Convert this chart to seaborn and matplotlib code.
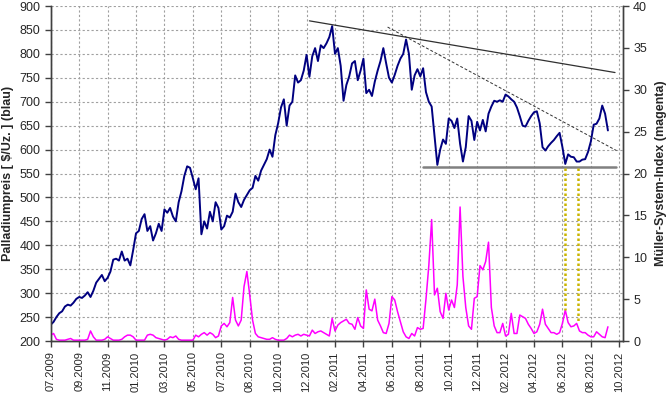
import numpy as np
import pandas as pd
import seaborn as sns
import matplotlib
matplotlib.use("Agg")
from matplotlib import pyplot as plt

# x axis labels, one every tick interval
tick_labels = ["07.2009", "09.2009", "11.2009", "01.2010", "03.2010", "05.2010",
               "07.2010", "08.2010", "10.2010", "12.2010", "02.2011", "04.2011",
               "06.2011", "08.2011", "10.2011", "12.2011", "02.2012", "04.2012",
               "06.2012", "08.2012", "10.2012"]

# samples are spaced 0.1 tick interval apart
step = 0.1

# palladium price in $/oz (blue, left axis)
price = [
    234, 240, 250, 258, 262, 272, 276, 274, 280, 288,
    292, 290, 295, 302, 292, 305, 322, 330, 338, 325,
    332, 345, 370, 372, 368, 387, 368, 372, 358, 390,
    425, 430, 455, 465, 430, 440, 410, 425, 445, 430,
    475, 468, 478, 460, 450, 490, 513, 545, 565, 562,
    540, 517, 540, 423, 450, 435, 470, 450, 490, 478,
    433, 440, 462, 458, 470, 508, 490, 480, 495, 505,
    515, 520, 545, 535, 556, 568, 580, 600, 585, 630,
    655, 688, 705, 650, 692, 700, 755, 740, 745, 765,
    798, 752, 795, 812, 785, 818, 812, 822, 835, 858,
    800, 812, 775, 702, 735, 753, 780, 785, 745, 765,
    790, 718, 725, 712, 742, 765, 785, 812, 780, 750,
    740, 756, 775, 790, 800, 830, 800, 725, 755, 768,
    753, 770, 720, 700, 690, 630, 568, 600, 621, 612,
    665, 660, 645, 665, 612, 575, 605, 670, 660, 620,
    658, 640, 662, 638, 675, 690, 702, 700, 703, 700,
    715, 711, 705, 700, 688, 670, 650, 648, 660, 670,
    678, 680, 655, 605, 598, 607, 614, 620, 628, 635,
    605, 570, 590, 585, 584, 575, 575, 579, 580, 595,
    617, 652, 654, 665, 692, 675, 640,
]

# Mueller-System-Index (magenta, right axis)
msi = [
    0.7, 0.9, 0.2, 0.1, 0.1, 0.1, 0.2, 0.3, 0.1, 0.1,
    0.1, 0.1, 0.1, 0.2, 1.2, 0.5, 0.1, 0.1, 0.1, 0.2,
    0.5, 0.3, 0.1, 0.1, 0.1, 0.2, 0.5, 0.7, 0.7, 0.5,
    0.1, 0.1, 0.1, 0.1, 0.7, 0.8, 0.7, 0.4, 0.3, 0.2,
    0.1, 0.2, 0.5, 0.4, 0.6, 0.2, 0.1, 0.1, 0.1, 0.1,
    0.1, 0.7, 0.5, 0.8, 1.0, 0.7, 1.0, 0.8, 0.4, 0.6,
    1.8, 2.1, 1.7, 2.2, 5.2, 2.5, 1.8, 2.5, 6.5, 8.3,
    5.5, 2.5, 0.9, 0.5, 0.4, 0.3, 0.2, 0.2, 0.4, 0.2,
    0.1, 0.1, 0.1, 0.3, 0.7, 0.5, 0.7, 0.8, 0.6, 0.8,
    0.7, 0.6, 1.3, 0.9, 1.1, 1.2, 1.0, 0.8, 0.6, 2.7,
    1.2, 1.9, 2.2, 2.4, 2.6, 2.1, 2.0, 1.4, 2.8, 1.8,
    1.5, 6.1, 3.8, 3.6, 5.0, 2.5, 1.8, 1.0, 0.9, 2.1,
    5.3, 4.9, 3.5, 2.3, 1.1, 0.5, 0.3, 0.9, 0.6, 1.6,
    1.4, 1.5, 5.0, 9.0, 14.5, 5.5, 6.3, 3.5, 2.7, 5.7,
    3.7, 4.9, 4.0, 6.7, 16.0, 7.7, 4.0, 1.8, 1.4, 5.1,
    5.3, 9.0, 8.5, 9.5, 11.8, 4.0, 1.8, 1.0, 1.0, 2.1,
    0.6, 0.8, 3.3, 0.9, 0.9, 3.1, 2.9, 2.7, 2.0, 1.5,
    0.9, 1.1, 2.0, 3.8, 2.0, 1.5, 1.0, 1.0, 0.8, 1.0,
    2.1, 3.7, 2.2, 1.7, 1.8, 2.1, 1.2, 1.0, 1.0, 0.7,
    0.5, 0.5, 1.1, 0.8, 0.5, 0.4, 1.7,
]

# hand-drawn chart lines (x in tick intervals, y in $/oz or index units)
resist_x = [9.1, 19.85]
resist_y = [869, 761]
trend_x = [11.85, 19.9]
trend_y = [856, 598]
support_x = [13.1, 19.9]
support_y = [563, 563]
signal_x = [18.1, 18.55]
signal_top = 20.7
signal_low = [3.7, 2.2]

sns.set_style("white")
plt.rcParams['font.family'] = ['Liberation Sans', 'DejaVu Sans']

df = pd.DataFrame({"t": np.arange(len(price)) * step, "Preis": price, "MSI": msi})

fig = plt.figure(figsize=(6.7, 3.93), dpi=100)
ax = fig.add_axes([0.0757, 0.1323, 0.8537, 0.8524])
ax2 = ax.twinx()

sns.lineplot(data=df, x="t", y="Preis", ax=ax, color="#000080", lw=1.4)
sns.lineplot(data=df, x="t", y="MSI", ax=ax2, color="#ff00ff", lw=1.1)

# trend lines
ax.plot(resist_x, resist_y, color="#303030", lw=0.9)
ax.plot(trend_x, trend_y, color="#303030", lw=0.7, ls=(0, (3, 2)))
ax.plot(support_x, support_y, color="#808080", lw=1.8)
for x, low in zip(signal_x, signal_low):
    ax2.plot([x, x], [signal_top, low], color="#c8b400", lw=1.8, ls=(0, (1, 1)))

ax.set_xlim(0, 20.12)
ax.set_ylim(200, 900)
ax2.set_ylim(0, 40)
ax.set_xticks(range(len(tick_labels)))
ax.set_xticklabels(tick_labels, rotation=90, fontsize=8)
ax.set_yticks(range(200, 901, 50))
ax2.set_yticks(range(0, 41, 5))

ax.grid(True, ls=(0, (2, 2)), color="#a0a0a0", lw=0.8)
ax2.grid(False)

for a in (ax, ax2):
    a.spines['top'].set_visible(False)
    for s in ('left', 'right', 'bottom'):
        a.spines[s].set_color("#404040")
        a.spines[s].set_linewidth(1.0)
ax.tick_params(axis='both', which='major', direction='out', length=4, width=1,
               color="#404040", labelsize=9, bottom=True, left=True)
ax.tick_params(axis='x', labelsize=8)
ax2.tick_params(axis='y', direction='out', length=4, width=1, color="#404040",
                labelsize=9, right=True)

ax.set_xlabel("")
ax.set_ylabel("Palladiumpreis [ $/Uz. ] (blau)", fontsize=9, fontweight='bold', labelpad=4)
ax2.set_ylabel("Müller-System-Index (magenta)", fontsize=9, fontweight='bold', labelpad=6)

fig.savefig("out.png", dpi=100)
